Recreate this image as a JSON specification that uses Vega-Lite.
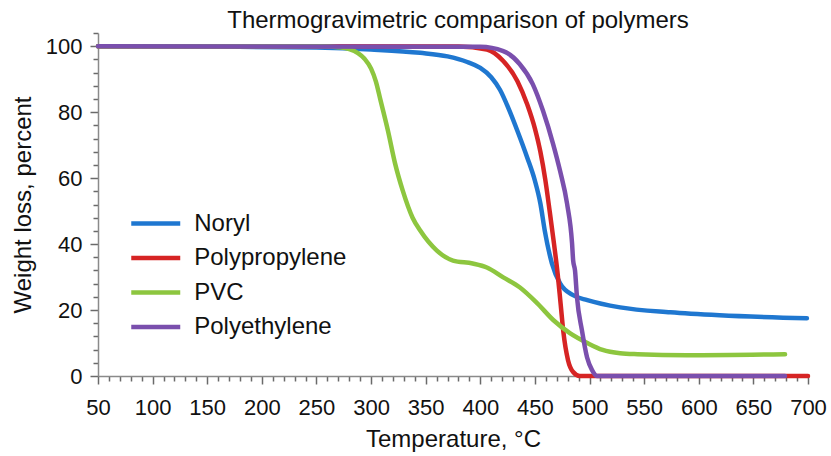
{
  "$schema": "https://vega.github.io/schema/vega-lite/v6.json",
  "width": 710,
  "height": 343,
  "autosize": {"type": "none"},
  "padding": {"left": 98, "top": 33, "right": 23, "bottom": 80},
  "background": "white",
  "config": {
    "font": "Liberation Sans",
    "view": {"stroke": null},
    "axis": {"grid": false, "domainColor": "#8a8a8a", "domainWidth": 1.5, "tickColor": "#6a6a6a", "tickWidth": 1.5, "labelColor": "#111", "titleColor": "#111", "labelFont": "Liberation Sans", "titleFont": "Liberation Sans", "titleFontWeight": "normal"}
  },
  "title": {"text": "Thermogravimetric comparison of polymers", "fontSize": 24, "fontWeight": "normal", "font": "Liberation Sans", "color": "#111", "offset": -11, "dx": 5},
  "data": {"values": [
    {"s": "Noryl", "T": 50, "W": 100},
    {"s": "Noryl", "T": 150, "W": 99.9},
    {"s": "Noryl", "T": 250, "W": 99.6},
    {"s": "Noryl", "T": 300, "W": 99.0},
    {"s": "Noryl", "T": 345, "W": 98.0},
    {"s": "Noryl", "T": 370, "W": 96.9},
    {"s": "Noryl", "T": 388, "W": 95.2},
    {"s": "Noryl", "T": 400, "W": 93.4},
    {"s": "Noryl", "T": 410, "W": 90.6},
    {"s": "Noryl", "T": 418, "W": 86.8},
    {"s": "Noryl", "T": 426, "W": 81.0},
    {"s": "Noryl", "T": 434, "W": 74.3},
    {"s": "Noryl", "T": 443, "W": 66.2},
    {"s": "Noryl", "T": 450, "W": 59.2},
    {"s": "Noryl", "T": 455, "W": 52.3},
    {"s": "Noryl", "T": 459, "W": 44.1},
    {"s": "Noryl", "T": 465.6, "W": 34.1},
    {"s": "Noryl", "T": 473, "W": 28.1},
    {"s": "Noryl", "T": 485, "W": 24.5},
    {"s": "Noryl", "T": 498, "W": 23.0},
    {"s": "Noryl", "T": 528, "W": 20.8},
    {"s": "Noryl", "T": 574, "W": 19.3},
    {"s": "Noryl", "T": 619, "W": 18.4},
    {"s": "Noryl", "T": 699, "W": 17.5},
    {"s": "Polypropylene", "T": 50, "W": 100},
    {"s": "Polypropylene", "T": 380, "W": 99.9},
    {"s": "Polypropylene", "T": 406, "W": 99.0},
    {"s": "Polypropylene", "T": 421, "W": 95.5},
    {"s": "Polypropylene", "T": 434, "W": 89.4},
    {"s": "Polypropylene", "T": 443, "W": 82.3},
    {"s": "Polypropylene", "T": 450, "W": 75.0},
    {"s": "Polypropylene", "T": 455, "W": 68.0},
    {"s": "Polypropylene", "T": 459.5, "W": 59.5},
    {"s": "Polypropylene", "T": 463.5, "W": 50.0},
    {"s": "Polypropylene", "T": 467.5, "W": 40.0},
    {"s": "Polypropylene", "T": 470.8, "W": 31.0},
    {"s": "Polypropylene", "T": 473.5, "W": 22.0},
    {"s": "Polypropylene", "T": 476, "W": 13.5},
    {"s": "Polypropylene", "T": 480.3, "W": 4.8},
    {"s": "Polypropylene", "T": 485, "W": 1.2},
    {"s": "Polypropylene", "T": 491, "W": 0},
    {"s": "Polypropylene", "T": 700, "W": 0},
    {"s": "PVC", "T": 50, "W": 100},
    {"s": "PVC", "T": 255, "W": 100},
    {"s": "PVC", "T": 270, "W": 99.7},
    {"s": "PVC", "T": 280, "W": 99.1},
    {"s": "PVC", "T": 288, "W": 97.9},
    {"s": "PVC", "T": 294, "W": 96.2},
    {"s": "PVC", "T": 300, "W": 93.2},
    {"s": "PVC", "T": 304.5, "W": 89.2},
    {"s": "PVC", "T": 308.5, "W": 83.8},
    {"s": "PVC", "T": 315.5, "W": 74.3},
    {"s": "PVC", "T": 322, "W": 64.4},
    {"s": "PVC", "T": 329, "W": 56.2},
    {"s": "PVC", "T": 338, "W": 48.0},
    {"s": "PVC", "T": 345, "W": 44.1},
    {"s": "PVC", "T": 360, "W": 38.1},
    {"s": "PVC", "T": 375, "W": 35.0},
    {"s": "PVC", "T": 393, "W": 34.1},
    {"s": "PVC", "T": 406, "W": 32.9},
    {"s": "PVC", "T": 421, "W": 29.9},
    {"s": "PVC", "T": 436, "W": 26.9},
    {"s": "PVC", "T": 452, "W": 22.1},
    {"s": "PVC", "T": 467, "W": 16.9},
    {"s": "PVC", "T": 482, "W": 13.0},
    {"s": "PVC", "T": 498, "W": 10.0},
    {"s": "PVC", "T": 512, "W": 7.9},
    {"s": "PVC", "T": 528, "W": 6.9},
    {"s": "PVC", "T": 544, "W": 6.6},
    {"s": "PVC", "T": 589, "W": 6.3},
    {"s": "PVC", "T": 679, "W": 6.6},
    {"s": "Polyethylene", "T": 50, "W": 100},
    {"s": "Polyethylene", "T": 400, "W": 99.8},
    {"s": "Polyethylene", "T": 421, "W": 98.5},
    {"s": "Polyethylene", "T": 436, "W": 94.6},
    {"s": "Polyethylene", "T": 448, "W": 88.5},
    {"s": "Polyethylene", "T": 457.4, "W": 80.4},
    {"s": "Polyethylene", "T": 466.6, "W": 70.4},
    {"s": "Polyethylene", "T": 473, "W": 62.2},
    {"s": "Polyethylene", "T": 479.4, "W": 52.3},
    {"s": "Polyethylene", "T": 484, "W": 40.2},
    {"s": "Polyethylene", "T": 485, "W": 35},
    {"s": "Polyethylene", "T": 486.7, "W": 32},
    {"s": "Polyethylene", "T": 488.5, "W": 23.9},
    {"s": "Polyethylene", "T": 493, "W": 13.9},
    {"s": "Polyethylene", "T": 497.7, "W": 5.7},
    {"s": "Polyethylene", "T": 502.3, "W": 1.8},
    {"s": "Polyethylene", "T": 507, "W": 0},
    {"s": "Polyethylene", "T": 679, "W": 0}
  ]},
  "mark": {"type": "line", "strokeWidth": 4.5, "interpolate": "monotone", "strokeCap": "round", "strokeJoin": "round"},
  "encoding": {
    "x": {
      "field": "T", "type": "quantitative",
      "scale": {"domain": [50, 700], "nice": false, "zero": false},
      "axis": {
        "title": "Temperature, °C", "titleFontSize": 24, "titlePadding": 9,
        "values": [50,60,70,80,90,100,110,120,130,140,150,160,170,180,190,200,210,220,230,240,250,260,270,280,290,300,310,320,330,340,350,360,370,380,390,400,410,420,430,440,450,460,470,480,490,500,510,520,530,540,550,560,570,580,590,600,610,620,630,640,650,660,670,680,690,700],
        "labelExpr": "datum.value % 50 === 0 ? datum.label : ''",
        "labelFontSize": 22, "labelPadding": 13, "labelOverlap": false, "labelFlush": false,
        "tickSize": {"condition": {"test": "datum.value % 50 === 0", "value": 8}, "value": 5}
      }
    },
    "y": {
      "field": "W", "type": "quantitative",
      "scale": {"domain": [0, 104], "nice": false},
      "axis": {
        "title": "Weight loss, percent", "titleFontSize": 24, "titlePadding": 10,
        "values": [0,4,8,12,16,20,24,28,32,36,40,44,48,52,56,60,64,68,72,76,80,84,88,92,96,100,104],
        "labelExpr": "datum.value % 20 === 0 ? datum.label : ''",
        "labelFontSize": 22, "labelPadding": 8, "labelOverlap": false, "labelFlush": false,
        "tickSize": {"condition": {"test": "datum.value % 20 === 0", "value": 8}, "value": 5}
      }
    },
    "color": {
      "field": "s", "type": "nominal",
      "scale": {"domain": ["Noryl", "Polypropylene", "PVC", "Polyethylene"], "range": ["#1f77d0", "#d62424", "#8dc63f", "#7a4fad"]},
      "legend": {
        "title": null, "orient": "none", "legendX": 43.25, "legendY": 176,
        "symbolType": "M-2,0H2", "symbolSize": 600, "symbolStrokeWidth": 4.5,
        "labelFontSize": 24, "labelFont": "Liberation Sans", "labelColor": "#111",
        "labelOffset": 24, "rowPadding": 7.5, "padding": 0
      }
    }
  }
}
